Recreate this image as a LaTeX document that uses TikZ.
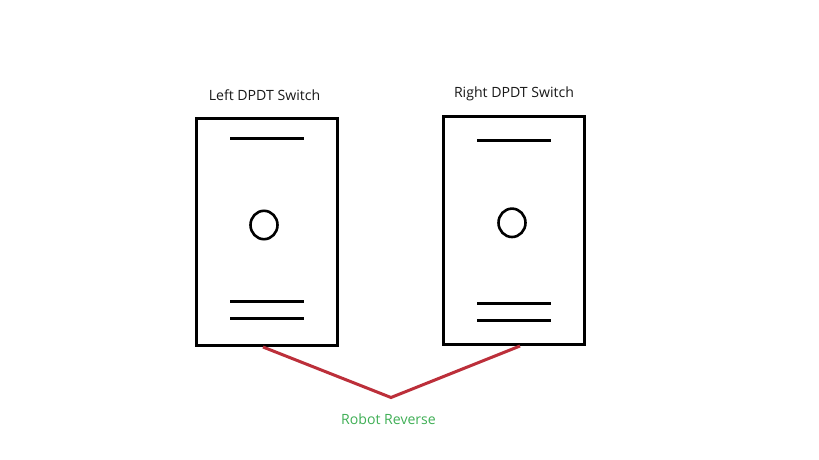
\documentclass[tikz,border=0pt]{standalone}
\usepackage{fontspec}
\setmainfont{Open Sans}
\begin{document}
\begin{tikzpicture}[x=1pt,y=-1pt,
  switchbox/.style={draw=black,line width=3pt,rectangle,inner sep=0pt,outer sep=0pt,anchor=north west,minimum width=141pt,minimum height=#1},
  contact/.style={draw=black,line width=2.8pt},
  lever/.style={draw=black,line width=2.6pt},
  titlelabel/.style={font=\fontsize{14.1pt}{16pt}\selectfont,text=black!90,inner sep=0pt},
  linkline/.style={draw=linkred,line width=3pt,line join=miter},
]
\definecolor{linkred}{HTML}{BC2F3A}
\definecolor{labelgreen}{HTML}{3FAF55}
\useasboundingbox (0,0) rectangle (819,460);
\fill[white] (0,0) rectangle (819,460);

\node[switchbox=227.5pt] (leftsw) at (196.5,118) {};
\node[switchbox=227.5pt] (rightsw) at (443.5,116.7) {};

\node[titlelabel] (lefttitle) at (264.5,95) {Left DPDT Switch};
\node[titlelabel] (righttitle) at (514,93.5) {Right DPDT Switch};

\draw[contact] (230,138.5) -- (304,138.5);
\draw[contact] (230,301.3) -- (304,301.3);
\draw[contact] (230,318.5) -- (304,318.5);
\draw[contact] (477,140.5) -- (551,140.5);
\draw[contact] (477,303.5) -- (551,303.5);
\draw[contact] (477,320.5) -- (551,320.5);

\draw[lever] (264,225) ellipse (13.5 and 14.2);
\draw[lever] (512,222.8) ellipse (13.5 and 14.2);

\coordinate (leftfoot) at (263,347);
\coordinate (rightfoot) at (520,346);
\coordinate (apex) at (391,397.5);
\draw[linkline] (leftfoot) -- (apex) -- (rightfoot);

\node[titlelabel,text=labelgreen] (reverse) at (388.5,419) {Robot Reverse};
\end{tikzpicture}
\end{document}
